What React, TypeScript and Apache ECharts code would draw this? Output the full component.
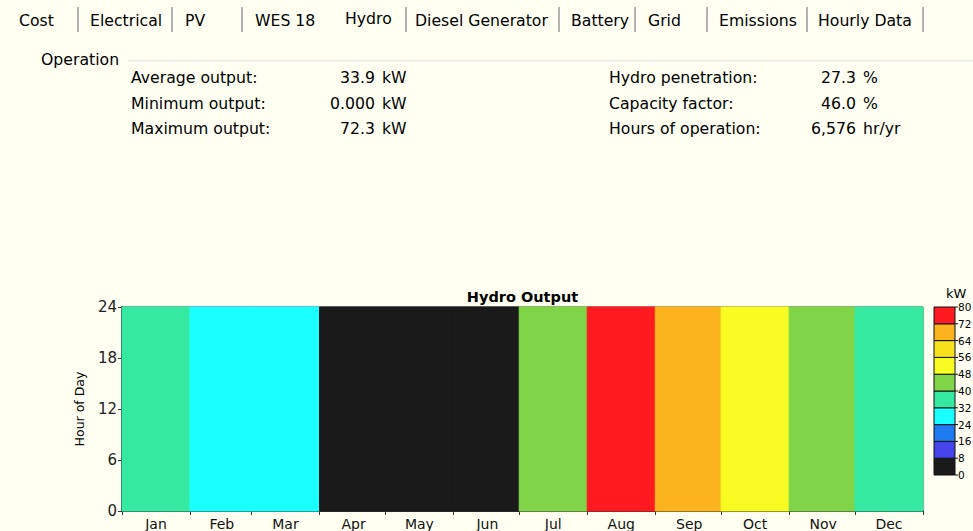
import React, { useEffect, useRef } from "react";
import * as echarts from "echarts";

// ---------- data ----------
const months = ["Jan", "Feb", "Mar", "Apr", "May", "Jun", "Jul", "Aug", "Sep", "Oct", "Nov", "Dec"];
const monthDays = [31, 28, 31, 30, 31, 30, 31, 31, 30, 31, 30, 31];
// typical hydro output per month (kW), constant over the hours of the day
const monthOutput = [36, 28, 28, 0, 0, 0, 44, 72.3, 68, 52, 44, 36];
const hourTicks = [0, 6, 12, 18, 24];
const legendBreaks = [0, 8, 16, 24, 32, 40, 48, 56, 64, 72, 80];
const legendColors = [
  "#1a1a1a", "#4444ea", "#1e7af0", "#1affff", "#36e9a0",
  "#80d448", "#f9fc22", "#f7e01c", "#fcb41e", "#fe1a1e",
];

const tabs = ["Cost", "Electrical", "PV", "WES 18", "Hydro", "Diesel Generator", "Battery", "Grid", "Emissions", "Hourly Data"];
const statsLeft = [
  ["Average output:", "33.9", "kW"],
  ["Minimum output:", "0.000", "kW"],
  ["Maximum output:", "72.3", "kW"],
];
const statsRight = [
  ["Hydro penetration:", "27.3", "%"],
  ["Capacity factor:", "46.0", "%"],
  ["Hours of operation:", "6,576", "hr/yr"],
];

// ---------- layout ----------
const W = 973;
const H = 531;
const FONT = '"DejaVu Sans", Tahoma, sans-serif';
const BG = "#fffff2";
const TXT = `15.7px ${FONT}`;
const tabX = [19, 90, 185, 255, 345, 415, 571, 648, 719, 818];
const sepX = [78, 172, 242, 406, 559, 635, 707, 807, 923];
const grid = { left: 122, top: 307, width: 801, height: 209 };
const legendBox = { x: 934, top: 307, bottom: 475, width: 21 };

export default function App() {
  const ref = useRef<HTMLDivElement>(null);

  useEffect(() => {
    if (!ref.current) return;
    const chart = echarts.init(ref.current, null, { renderer: "svg" });

    // days of the year as categories
    const dayCats: string[] = [];
    const monthStart: number[] = [];
    const monthMid: number[] = [];
    let acc = 0;
    monthDays.forEach((d) => {
      monthStart.push(acc);
      monthMid.push(acc + Math.floor(d / 2));
      acc += d;
    });
    for (let i = 0; i < acc; i++) dayCats.push("d" + i);
    const seriesData = monthOutput.map((v, i) => [monthStart[i], monthStart[i] + monthDays[i] - 1, v]);

    const graphics: any[] = [];
    // tabs
    tabs.forEach((t, i) => {
      graphics.push({
        type: "text",
        x: tabX[i],
        y: t === "Hydro" ? 18 : 20,
        style: { text: t, font: TXT, fill: "#000", textVerticalAlign: "middle" },
      });
    });
    sepX.forEach((x) => {
      graphics.push({ type: "line", shape: { x1: x, y1: 7, x2: x, y2: 32 }, style: { stroke: "#9a9a94", lineWidth: 1.5 } });
      graphics.push({ type: "line", shape: { x1: x + 1.5, y1: 7, x2: x + 1.5, y2: 32 }, style: { stroke: "#ffffff", lineWidth: 1 } });
    });
    // operation group
    graphics.push({ type: "text", x: 41, y: 59, style: { text: "Operation", font: TXT, fill: "#000", textVerticalAlign: "middle" } });
    graphics.push({ type: "line", shape: { x1: 128, y1: 61, x2: W, y2: 61 }, style: { stroke: "#d2d2c8", lineWidth: 1 } });
    graphics.push({ type: "line", shape: { x1: 128, y1: 62, x2: W, y2: 62 }, style: { stroke: "#ffffff", lineWidth: 1 } });
    const rowY = [77, 103, 128];
    statsLeft.forEach((r, i) => {
      graphics.push({ type: "text", x: 131, y: rowY[i], style: { text: r[0], font: TXT, fill: "#000", textVerticalAlign: "middle" } });
      graphics.push({ type: "text", x: 375, y: rowY[i], style: { text: r[1], font: TXT, fill: "#000", textAlign: "right", textVerticalAlign: "middle" } });
      graphics.push({ type: "text", x: 382, y: rowY[i], style: { text: r[2], font: TXT, fill: "#000", textVerticalAlign: "middle" } });
    });
    statsRight.forEach((r, i) => {
      graphics.push({ type: "text", x: 609, y: rowY[i], style: { text: r[0], font: TXT, fill: "#000", textVerticalAlign: "middle" } });
      graphics.push({ type: "text", x: 856, y: rowY[i], style: { text: r[1], font: TXT, fill: "#000", textAlign: "right", textVerticalAlign: "middle" } });
      graphics.push({ type: "text", x: 863, y: rowY[i], style: { text: r[2], font: TXT, fill: "#000", textVerticalAlign: "middle" } });
    });

    // colour legend
    const lMin = legendBreaks[0];
    const lMax = legendBreaks[legendBreaks.length - 1];
    const lH = legendBox.bottom - legendBox.top;
    const yOf = (v: number) => legendBox.bottom - ((v - lMin) / (lMax - lMin)) * lH;
    legendColors.forEach((c, i) => {
      const y0 = yOf(legendBreaks[i + 1]);
      const y1 = yOf(legendBreaks[i]);
      graphics.push({
        type: "rect",
        shape: { x: legendBox.x, y: y0, width: legendBox.width, height: y1 - y0 },
        style: { fill: c, stroke: "#111", lineWidth: 1 },
      });
    });
    legendBreaks.forEach((b) => {
      const y = yOf(b);
      const x = legendBox.x + legendBox.width;
      graphics.push({ type: "line", shape: { x1: x, y1: y, x2: x + 3, y2: y }, style: { stroke: "#111", lineWidth: 1 } });
      graphics.push({ type: "text", x: x + 3, y, style: { text: String(b), font: `10.5px ${FONT}`, fill: "#000", textVerticalAlign: "middle" } });
    });
    graphics.push({ type: "text", x: 946, y: 293, style: { text: "kW", font: `13px ${FONT}`, fill: "#000", textVerticalAlign: "middle" } });

    chart.setOption({
      animation: false,
      backgroundColor: BG,
      title: {
        text: "Hydro Output",
        left: grid.left + grid.width / 2,
        top: 289,
        padding: 0,
        textAlign: "center",
        textStyle: { fontFamily: FONT, fontSize: 14.5, fontWeight: "bold", color: "#000" },
      },
      grid: { ...grid, show: true, borderColor: "#333", borderWidth: 1, backgroundColor: "transparent" },
      xAxis: {
        type: "category",
        data: dayCats,
        boundaryGap: true,
        axisLine: { show: true, lineStyle: { color: "#333", width: 2 } },
        axisTick: {
          show: true,
          alignWithLabel: false,
          length: 4,
          interval: (index: number) => monthStart.includes(index),
          lineStyle: { color: "#333" },
        },
        axisLabel: {
          interval: (index: number) => monthMid.includes(index),
          formatter: (_v: string, index: number) => months[monthMid.indexOf(index)] ?? "",
          fontFamily: FONT,
          fontSize: 14,
          color: "#111",
          margin: 6,
        },
        splitLine: { show: false },
      },
      yAxis: {
        type: "value",
        min: hourTicks[0],
        max: hourTicks[hourTicks.length - 1],
        interval: hourTicks[1] - hourTicks[0],
        name: "Hour of Day",
        nameLocation: "middle",
        nameRotate: 90,
        nameGap: 36,
        nameTextStyle: { fontFamily: FONT, fontSize: 12.5, color: "#000" },
        axisLine: { show: true, lineStyle: { color: "#333", width: 2 } },
        axisTick: { show: true, length: 4, lineStyle: { color: "#333" } },
        axisLabel: { fontFamily: FONT, fontSize: 15, color: "#222", margin: 5 },
        splitLine: { show: false },
      },
      visualMap: {
        type: "piecewise",
        show: false,
        dimension: 2,
        seriesIndex: 0,
        pieces: legendColors.map((c, i) => ({ gte: legendBreaks[i], lt: legendBreaks[i + 1], color: c })),
      },
      series: [
        {
          type: "custom",
          data: seriesData,
          encode: { x: [0, 1] },
          renderItem: (_params: any, api: any) => {
            const s = api.value(0);
            const e = api.value(1);
            const p0 = api.coord([s, hourTicks[hourTicks.length - 1]]);
            const p1 = api.coord([e, hourTicks[0]]);
            const bw = api.size([1, 0])[0];
            const col = api.visual("color");
            return {
              type: "rect",
              shape: { x: p0[0] - bw / 2, y: p0[1], width: p1[0] - p0[0] + bw, height: p1[1] - p0[1] },
              style: { fill: col, stroke: col, lineWidth: 1 },
            };
          },
          z: 1,
        },
      ],
      graphic: graphics,
    });

    return () => chart.dispose();
  }, []);

  return (
    <div
      ref={ref}
      style={{ position: "absolute", left: 0, top: 0, width: W, height: H, background: BG }}
    />
  );
}
